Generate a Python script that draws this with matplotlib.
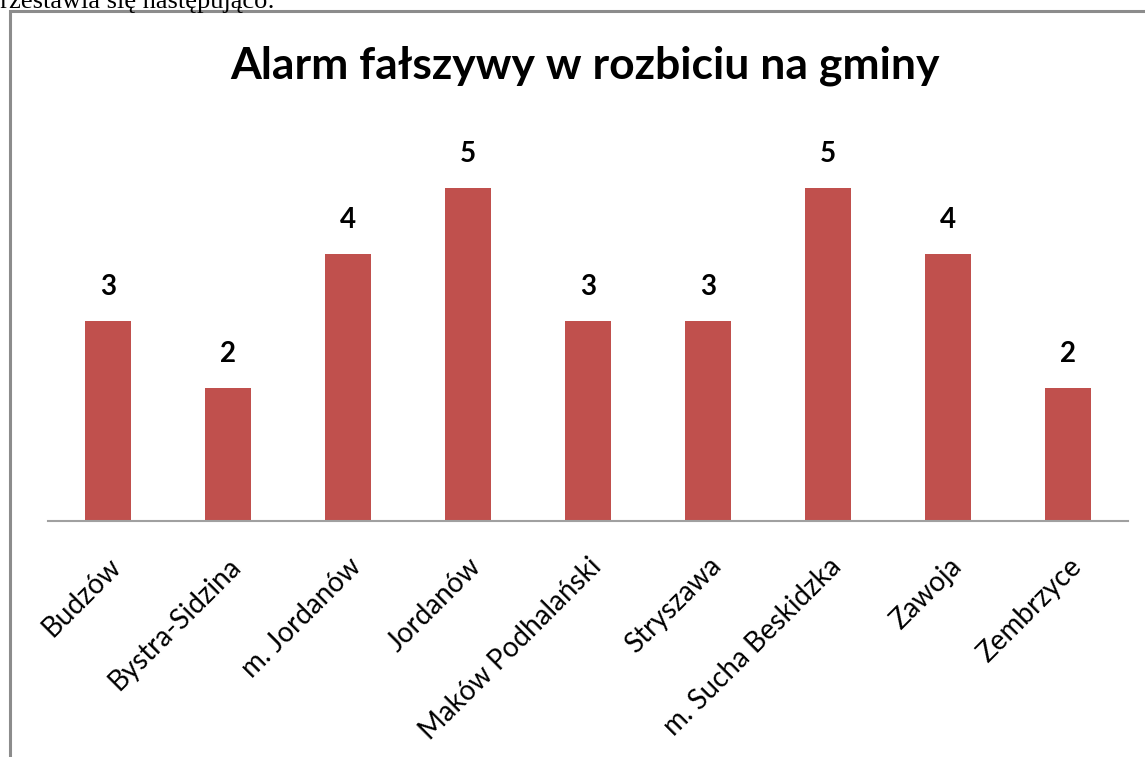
import matplotlib
matplotlib.use("Agg")
import matplotlib.pyplot as plt
from matplotlib.patches import Rectangle

categories = ["Budzów", "Bystra-Sidzina", "m. Jordanów", "Jordanów", "Maków Podhalański",
              "Stryszawa", "m. Sucha Beskidzka", "Zawoja", "Zembrzyce"]
values = [3, 2, 4, 5, 3, 3, 5, 4, 2]
title = "Alarm fałszywy w rozbiciu na gminy"
W, H = 1145, 757

fig = plt.figure(figsize=(W / 100, H / 100), dpi=100)
fig.patch.set_facecolor("white")

# chart frame
fig.patches.append(Rectangle((9.5 / W, -0.1), 1.2, 1 - 10.5 / H + 0.1, transform=fig.transFigure,
                             fill=False, edgecolor="#8c8c8c", linewidth=2.2, zorder=0))
# cut-off text above the chart
fig.text(-13 / W, 1 - 8 / H, "przestawia się następująco:", family="Liberation Serif",
         fontsize=19, va="baseline", ha="left", color="black")

ax = fig.add_axes([48 / W, (H - 521) / H, 1080 / W, 400 / H])
x = list(range(len(categories)))
ax.bar(x, values, width=0.39, color="#c0504d", zorder=2)
ax.set_xlim(-0.5, len(categories) - 0.5)
ax.set_ylim(0, 6)
for s in ["top", "right", "left"]:
    ax.spines[s].set_visible(False)
ax.spines["bottom"].set_color("#a0a0a0")
ax.spines["bottom"].set_linewidth(1.5)
ax.set_yticks([])
ax.set_xticks(x)
ax.set_xticklabels(categories, rotation=45, ha="right", rotation_mode="anchor",
                   family="Lato", fontsize=20)
ax.tick_params(axis="x", length=0, pad=23)
for xi, v in zip(x, values):
    ax.annotate(str(v), (xi, v), xytext=(0, 15), textcoords="offset points", ha="center",
                va="bottom", family="Lato", fontweight="bold", fontsize=20)
ax.set_facecolor("none")
fig.text(585 / W, 1 - 66 / H, title, family="Lato", fontweight="bold", fontsize=32,
         ha="center", va="center")
fig.savefig("out.png", dpi=100)
